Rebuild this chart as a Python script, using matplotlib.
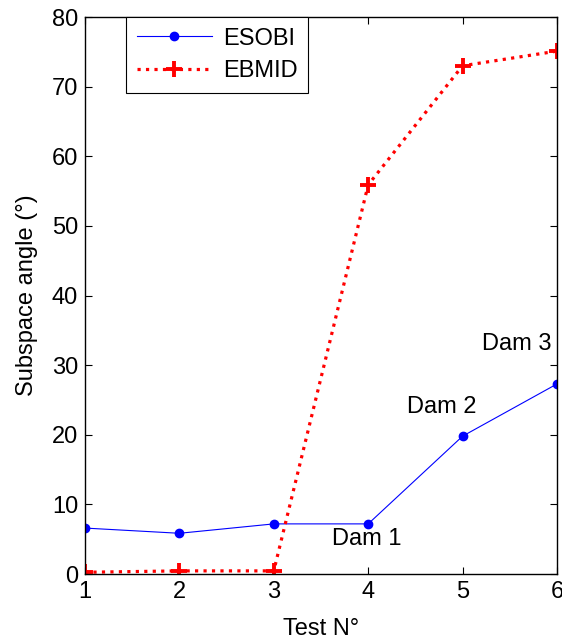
import numpy as np
import matplotlib
matplotlib.use('Agg')
import matplotlib.pyplot as plt

plt.rcParams['font.family'] = ['Liberation Sans', 'DejaVu Sans']

# data
tests = [1, 2, 3, 4, 5, 6]
esobi = [6.6, 5.85, 7.2, 7.2, 19.8, 27.3]
ebmid = [0.25, 0.45, 0.45, 55.9, 73.0, 75.1]
labels = ['Dam 1', 'Dam 2', 'Dam 3']
label_x = [3.98, 4.78, 5.57]
label_y = [5.1, 24.0, 33.1]

fig = plt.figure(figsize=(5.62, 6.4), dpi=100)
ax = fig.add_axes([0.1512, 0.1031, 0.8399, 0.8703])

ax.plot(tests, esobi, color='blue', lw=0.8, marker='o', ms=6, label='ESOBI')
ax.plot(tests, ebmid, color='red', lw=2.3, ls=':', marker='+', ms=11, mew=2.8,
        label='EBMID')

for t, x, y in zip(labels, label_x, label_y):
    ax.text(x, y, t, ha='center', va='center', fontsize=17)

ax.set_xlim(1, 6)
ax.set_ylim(0, 80)
ax.set_xticks(tests)
ax.set_yticks(np.arange(0, 81, 10))
ax.tick_params(direction='in', top=True, right=True, labelsize=17, length=5, pad=5)
for s in ax.spines.values():
    s.set_linewidth(1.0)

ax.set_xlabel('Test N°', fontsize=17, labelpad=11)
ax.set_ylabel('Subspace angle (°)', fontsize=17, labelpad=10)

leg = ax.legend(loc='upper left', bbox_to_anchor=(0.087, 1.0), borderaxespad=0,
                fontsize=17, fancybox=False, edgecolor='black', framealpha=1,
                handlelength=3.2, handletextpad=0.45, borderpad=0.45,
                labelspacing=0.45)
leg.get_frame().set_linewidth(0.8)

fig.savefig('out.png', dpi=100)
